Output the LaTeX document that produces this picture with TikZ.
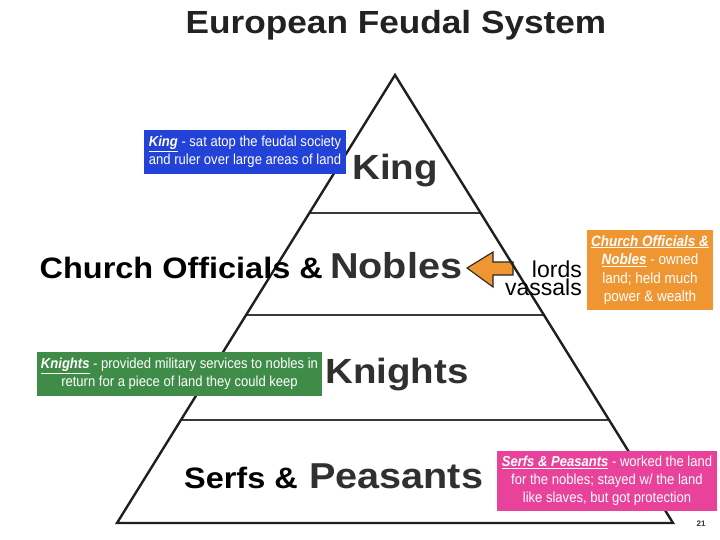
\documentclass[tikz,border=0pt]{standalone}
\usepackage{fontspec}
\setmainfont{Liberation Sans}
\newfontfamily\narrowfont[FakeStretch=0.9]{Liberation Sans}
\newfontfamily\wideb[FakeStretch=1.1]{Liberation Sans}
\usetikzlibrary{calc}
\definecolor{kingblue}{RGB}{35,66,216}
\definecolor{nobleorange}{RGB}{239,150,50}
\definecolor{knightgreen}{RGB}{63,140,72}
\definecolor{serfpink}{RGB}{232,66,154}
\definecolor{biggray}{RGB}{48,48,48}
\definecolor{titlegray}{RGB}{34,34,34}
\newcommand{\hl}[1]{\underline{\textbf{\textit{#1}}}}
\tikzset{
  side/.style={line width=2.4pt, draw=black!88, line join=miter},
  divider/.style={line width=2.8pt, draw=black!78},
  bigword/.style={anchor=base west, inner sep=0pt, text=biggray, font=\wideb\bfseries\fontsize{36}{40}\selectfont},
  smallword/.style={anchor=base east, inner sep=0pt, text=black, font=\wideb\bfseries\fontsize{29.5}{32}\selectfont},
  infobox/.style={inner sep=0pt, text=white, align=center, font=\narrowfont\fontsize{14.5}{18}\selectfont},
  arrowshape/.style={fill=nobleorange, draw=black!85, line width=1.1pt, line join=miter}
}
\begin{document}
\begin{tikzpicture}[x=1pt,y=-1pt]
\useasboundingbox (0,0) rectangle (720,540);
\fill[white] (0,0) rectangle (720,540);

% title
\node[anchor=base, inner sep=0pt, text=titlegray, font=\wideb\bfseries\fontsize{32}{36}\selectfont] (title) at (396,34) {European Feudal System};

% block arrow (drawn below the triangle)
\draw[arrowshape] (467,268) -- (493,252) -- (493,262) -- (513,262) -- (513,275) -- (493,275) -- (493,287) -- cycle;

% pyramid
\coordinate (apex) at (395,75);
\coordinate (bl) at (117,523);
\coordinate (br) at (673,523);
\draw[divider] ($(apex)!0.308!(bl)$) -- ($(apex)!0.308!(br)$);
\draw[divider] ($(apex)!0.5357!(bl)$) -- ($(apex)!0.5357!(br)$);
\draw[divider] ($(apex)!0.770!(bl)$) -- ($(apex)!0.770!(br)$);
\draw[side] (apex) -- (bl) -- (br) -- cycle;

% level words
\node[anchor=base, inner sep=0pt, text=biggray, font=\wideb\bfseries\fontsize{35}{40}\selectfont] (king) at (395,180) {King};
\node[bigword] (nobles) at (330,278) {Nobles};
\node[smallword] (church) at (323,278) {Church Officials \&};
\node[bigword, font=\wideb\bfseries\fontsize{35}{40}\selectfont] (knights) at (325,383) {Knights};
\node[bigword] (peasants) at (309,488) {Peasants};
\node[smallword] (serfs) at (298,488) {Serfs \&};

% lords / vassals
\node[anchor=base east, inner sep=0pt, align=right, font=\fontsize{23}{18}\selectfont] (lordsvassals) at (582,295) {lords\\vassals};

% info boxes
\node[infobox, fill=kingblue, minimum width=202pt, minimum height=44pt] (kingbox) at (245,152)
  {\hl{King} - sat atop the feudal society\\and ruler over large areas of land};
\node[infobox, fill=nobleorange, minimum width=126pt, minimum height=80pt, font=\narrowfont\fontsize{15}{18.5}\selectfont] (noblebox) at (650,270)
  {\hl{Church Officials \&}\\\hl{Nobles} - owned\\land; held much\\power \& wealth};
\node[infobox, fill=knightgreen, minimum width=285pt, minimum height=44pt] (knightbox) at (179.5,374)
  {\hl{Knights} - provided military services to nobles in\\return for a piece of land they could keep};
\node[infobox, fill=serfpink, minimum width=220pt, minimum height=60pt] (serfbox) at (607,481)
  {\hl{Serfs \& Peasants} - worked the land\\for the nobles; stayed w/ the land\\like slaves, but got protection};

% page number
\node[anchor=base, inner sep=0pt, text=black!80, font=\bfseries\fontsize{8}{9}\selectfont] (pagenum) at (701,526) {21};
\end{tikzpicture}
\end{document}
